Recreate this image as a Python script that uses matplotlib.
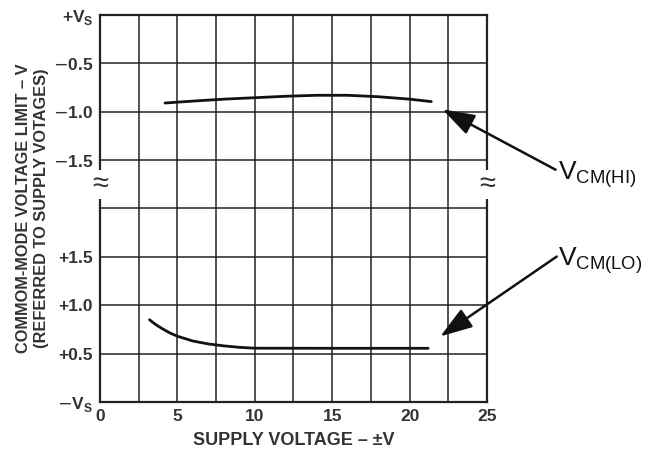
import numpy as np
import matplotlib
matplotlib.use('Agg')
import matplotlib.pyplot as plt

plt.rcParams['font.family'] = ['Liberation Sans', 'DejaVu Sans']

# data (volts relative to the supply rails)
vs_hi = [4.2, 6, 8, 10, 12, 14, 16, 18, 20, 21.4]
vcm_hi = [-0.91, -0.89, -0.87, -0.855, -0.84, -0.83, -0.83, -0.845, -0.87, -0.895]
vs_lo = [3.2, 3.6, 4, 4.5, 5, 5.5, 6, 7, 8, 9, 10, 15, 21.2]
vcm_lo = [0.85, 0.80, 0.76, 0.715, 0.68, 0.655, 0.63, 0.60, 0.58, 0.565, 0.556, 0.555, 0.555]

xticks = [0, 5, 10, 15, 20, 25]
ylabels = [r'$-$V$_\mathregular{S}$', '+0.5', '+1.0', '+1.5', '', '$-$1.5', '$-$1.0', '$-$0.5', r'+V$_\mathregular{S}$']

# broken axis: lower part measured from -Vs, upper part from +Vs, 0.5 V per grid row
def lo_pos(v):
    return np.array(v) * 2.0

def hi_pos(v):
    return 8 + np.array(v) * 2.0

fig = plt.figure(figsize=(6.48, 4.5), dpi=100)
ax = fig.add_axes([0.1543, 0.1067, 0.5972, 0.86])

ax.plot(vs_hi, hi_pos(vcm_hi), color='#111111', lw=2.0, solid_capstyle='round')
ax.plot(vs_lo, lo_pos(vcm_lo), color='#111111', lw=2.0, solid_capstyle='round')

ax.set_xlim(0, 25)
ax.set_ylim(0, 8)
ax.set_xticks(np.arange(0, 25.1, 2.5))
ax.set_xticklabels([str(int(t)) if t in xticks else '' for t in np.arange(0, 25.1, 2.5)])
ax.set_yticks(range(9))
ax.set_yticklabels(ylabels)
ax.tick_params(length=0, labelsize=12.5, colors='#333333', pad=5)
for lab in ax.get_xticklabels() + ax.get_yticklabels():
    lab.set_fontweight('bold')
ax.grid(True, color='#222222', lw=1.1)
for s in ax.spines.values():
    s.set_linewidth(1.6)
    s.set_color('#222222')

# break marks on both sides
for xx in (0, 25):
    ax.text(xx, 4.5, '≈', ha='center', va='center', fontsize=21,
            color='#333333', clip_on=False,
            bbox=dict(facecolor='white', edgecolor='none', pad=0.2))

ax.set_xlabel('SUPPLY VOLTAGE – ±V', fontsize=13, fontweight='bold', color='#333333', labelpad=6)
ax.set_ylabel('COMMOM-MODE VOLTAGE LIMIT – V\n(REFERRED TO SUPPLY VOTAGES)', fontsize=11.8,
              fontweight='bold', color='#333333', labelpad=3)

# annotations
ax.annotate('', xy=(440, 450 - 108), xycoords='figure pixels', xytext=(558, 450 - 171),
            textcoords='figure pixels',
            arrowprops=dict(arrowstyle='-|>,head_length=0.9,head_width=0.3', color='#111111',
                            lw=1.8, mutation_scale=22))
ax.annotate('', xy=(438, 450 - 338), xycoords='figure pixels', xytext=(559, 450 - 255),
            textcoords='figure pixels',
            arrowprops=dict(arrowstyle='-|>,head_length=0.9,head_width=0.3', color='#111111',
                            lw=1.8, mutation_scale=22))
fig.text(558 / 648, 1 - 175 / 450, r'V$_\mathregular{CM(HI)}$', fontsize=19, va='center', ha='left', color='#111111')
fig.text(558 / 648, 1 - 260 / 450, r'V$_\mathregular{CM(LO)}$', fontsize=19, va='center', ha='left', color='#111111')

fig.savefig('out.png', dpi=100)
